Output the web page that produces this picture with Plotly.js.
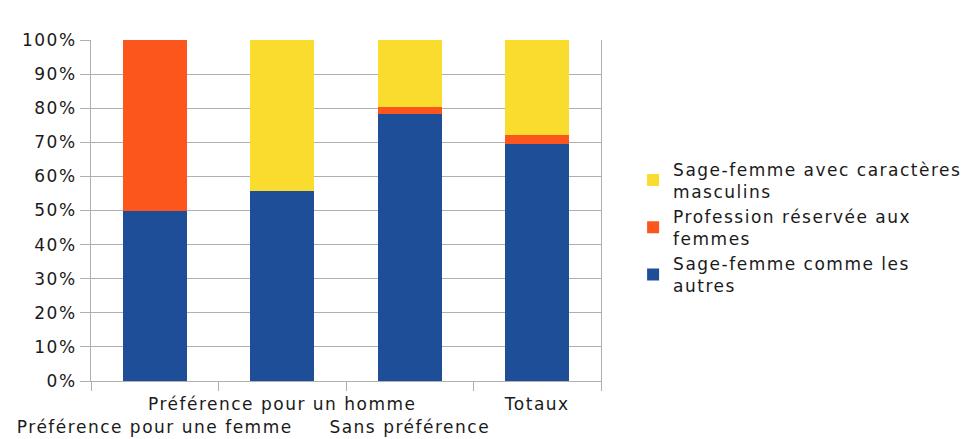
<!DOCTYPE html>
<html>
<head>
<meta charset="utf-8">
<script src="https://cdn.plot.ly/plotly-3.0.1.min.js"></script>
<style>html,body{margin:0;padding:0;background:#fff}#chart{width:974px;height:439px}
svg text{letter-spacing:1.5px}</style>
</head>
<body>
<div id="chart"></div>
<script>
const categories = ["Préférence pour une femme", "Préférence pour un homme", "Sans préférence", "Totaux"];
const tickLabels = ["<br>Préférence pour une femme", "Préférence pour un homme", "<br>Sans préférence", "Totaux"];
const seriesNames = ["Sage-femme comme les<br>autres", "Profession réservée aux<br>femmes", "Sage-femme avec caractères<br>masculins"];
const commeLesAutres = [50, 55.6, 78.2, 69.4];
const reserveeFemmes = [50, 0, 2.1, 2.6];
const caracteresMasculins = [0, 44.4, 19.7, 28.0];
const colors = ["#1f4e99", "#fc561c", "#f9dc2e"];

const values = [commeLesAutres, reserveeFemmes, caracteresMasculins];
const traces = values.map((v, i) => ({
  type: "bar",
  x: categories,
  y: v,
  name: seriesNames[i],
  marker: {color: colors[i]},
  hoverinfo: "none"
}));

const font = {family: "DejaVu Sans, Arial, sans-serif", size: 17, color: "#1a1a1a"};

Plotly.newPlot("chart", traces, {
  width: 974, height: 439,
  barmode: "stack",
  bargap: 0.5,
  paper_bgcolor: "#fff",
  plot_bgcolor: "#fff",
  font: font,
  margin: {l: 91, r: 373, t: 40, b: 58},
  showlegend: true,
  legend: {
    xref: "container", yref: "container",
    x: 0.65, y: 0.655, xanchor: "left", yanchor: "top",
    traceorder: "reversed",
    font: {family: font.family, size: 17, color: "#1a1a1a"},
    itemwidth: 30,
    tracegroupgap: 3
  },
  xaxis: {
    type: "category",
    tickmode: "array",
    tickvals: categories,
    ticktext: tickLabels,
    tickangle: 0,
    tickson: "boundaries",
    ticks: "outside",
    ticklen: 9,
    ticklabelstandoff: 8,
    tickcolor: "#b0b0b0",
    showgrid: false,
    showline: true,
    linecolor: "#b0b0b0",
    tickfont: {family: font.family, size: 17, color: "#1a1a1a"}
  },
  yaxis: {
    range: [0, 100],
    dtick: 10,
    ticksuffix: "%",
    ticks: "outside",
    ticklen: 10,
    tickcolor: "#b0b0b0",
    showgrid: true,
    gridcolor: "#b0b0b0",
    showline: true,
    mirror: true,
    linecolor: "#b0b0b0",
    zeroline: false,
    tickfont: {family: font.family, size: 17, color: "#1a1a1a"}
  }
}, {displayModeBar: false, staticPlot: true});
</script>
</body>
</html>
